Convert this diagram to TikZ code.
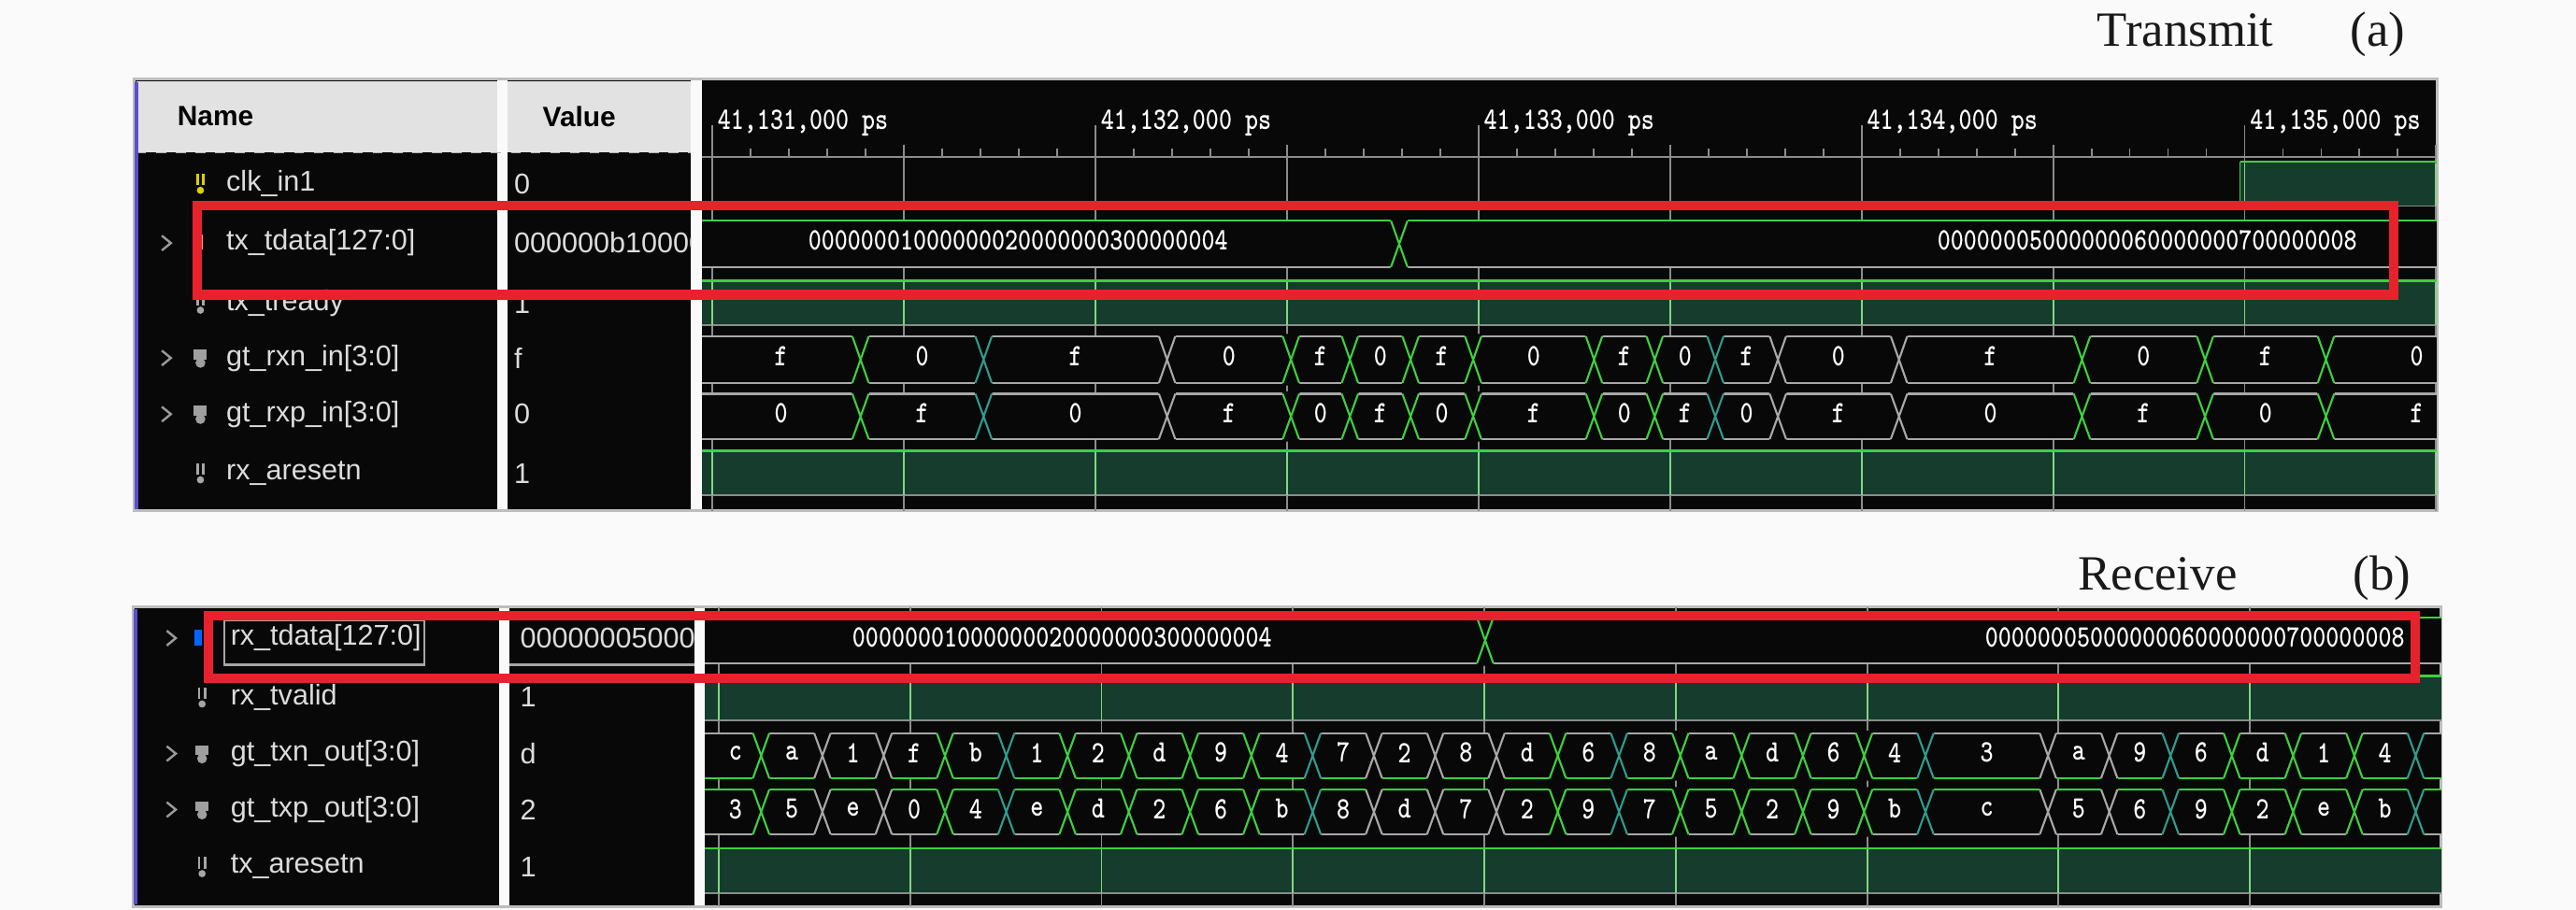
\documentclass[tikz,border=0pt]{standalone}
\usepackage{fontspec}
\setmainfont{Liberation Serif}
\newfontfamily\sigfont{Liberation Sans}
\usetikzlibrary{positioning}

\definecolor{pagebg}{HTML}{FAFAFA}
\definecolor{wavebg}{HTML}{080808}
\definecolor{hdrgray}{HTML}{E2E2E2}
\definecolor{framegray}{HTML}{BDBDBD}
\definecolor{busgray}{HTML}{A8A8A8}
\definecolor{gridgray}{HTML}{8C8C8C}
\definecolor{wavegreen}{HTML}{3ED03E}
\definecolor{xteal}{HTML}{2E9C8C}
\definecolor{wavefill}{HTML}{153C2C}
\definecolor{gridgreen}{HTML}{86D486}
\definecolor{markred}{HTML}{E8222C}
\definecolor{nametext}{HTML}{DCDCDC}
\definecolor{leftblue}{HTML}{5A4FD0}

\newcommand{\wavetext}[1]{\scalebox{0.8}[1]{#1}}
\newcommand{\busrow}[6]{\fill[wavebg] (#1,{#3-#4}) rectangle (#2,{#3+#4});
	\draw[color=#5, line width=0.6pt] (#1,{#3-#4}) -- (#2,{#3-#4});
	\draw[color=#6, line width=0.6pt] (#1,{#3+#4}) -- (#2,{#3+#4});}
\newcommand{\busflip}[4]{\fill[wavebg] ({#1-5.6},{#2-#3-1.5}) -- ({#1+5.6},{#2-#3-1.5}) -- ({#1},{#2}) -- cycle;
	\fill[wavebg] ({#1-5.6},{#2+#3+1.5}) -- ({#1+5.6},{#2+#3+1.5}) -- ({#1},{#2}) -- cycle;
	\draw[color=#4, line width=0.6pt] ({#1-5},{#2-#3}) -- ({#1+5},{#2+#3}) ({#1-5},{#2+#3}) -- ({#1+5},{#2-#3});}
\newcommand{\highrow}[4]{\fill[wavefill] (#1,{#3-#4}) rectangle (#2,{#3+#4});
	\draw[wavegreen, line width=0.7pt] (#1,{#3-#4}) -- (#2,{#3-#4});
	\draw[gridgray, line width=0.5pt] (#1,{#3+#4}) -- (#2,{#3+#4});}
\newcommand{\bitico}[3]{\draw[#3, line width=0.8pt] ({#1-1.8},{#2-6}) -- ({#1-1.8},{#2+1}) ({#1+1.8},{#2-6}) -- ({#1+1.8},{#2+1});
	\fill[#3] (#1,{#2+4}) circle (2.2);}
\newcommand{\busico}[3]{\fill[#3] ({#1-4},{#2-5}) rectangle ({#1+4},{#2+1});
	\fill[#3] (#1,{#2+3}) circle (3);}
\newcommand{\expander}[2]{\draw[gray!80, line width=0.7pt] (#1,{#2-4.5}) -- ({#1+5.5},#2) -- (#1,{#2+4.5});}

\def\flipsA{523.8/wavegreen, 598.7/xteal, 710.4/busgray, 785.8/wavegreen, 821.7/wavegreen, 858.6/wavegreen,
	896.7/wavegreen, 970.3/wavegreen, 1007.2/wavegreen, 1044.1/xteal, 1082.2/busgray, 1155.9/busgray,
	1267.3/wavegreen, 1342.2/wavegreen, 1415.8/wavegreen}
\def\flipsB{0/wavegreen, 1/busgray, 2/busgray, 3/wavegreen, 4/xteal, 5/wavegreen, 6/wavegreen, 7/wavegreen,
	8/wavegreen, 9/xteal, 10/busgray, 11/busgray, 12/busgray, 13/wavegreen, 14/xteal, 15/wavegreen,
	16/wavegreen, 17/wavegreen, 18/wavegreen, 19/xteal, 21/busgray, 22/busgray, 23/xteal, 24/wavegreen,
	25/wavegreen, 26/wavegreen, 27/xteal}

\begin{document}
\begin{tikzpicture}[x=0.017577cm, y=-0.017581cm,
	sig/.style={anchor=west, inner sep=0pt, text=nametext, font=\sigfont\fontsize{8.7}{10}\selectfont},
	hdr/.style={anchor=west, inner sep=0pt, text=black, font=\sigfont\bfseries\fontsize{8.5}{10}\selectfont},
	wv/.style={inner sep=0pt, text=white, font=\ttfamily\bfseries\fontsize{9.5}{11}\selectfont},
	caption/.style={anchor=base west, inner sep=0pt, text=black!90, font=\fontsize{15}{18}\selectfont},
	gridln/.style={draw=gridgray, line width=0.55pt},
	redbox/.style={draw=markred, line width=2.85pt}]

	\useasboundingbox (0,0) rectangle (1568,554);
	\fill[pagebg] (0,0) rectangle (1568,554);

	\node[caption] (Tx) at (1276.2,28.4) {Transmit};
	\node[caption, base right=23pt of Tx] (TxTag) {(a)};

	\fill[wavebg] (81.5,48.3) rectangle (1483.5,311);
	\fill[hdrgray] (83,49.5) rectangle (420.7,93);
	\fill[pagebg] (302.5,48.3) rectangle (309,311);
	\fill[pagebg] (420.7,48.3) rectangle (427,311);
	\draw[framegray, line width=0.8pt] (81.5,48.3) rectangle (1483.5,311);
	\draw[gray!60, dashed, line width=0.4pt] (83,93) -- (420.7,93);
	\draw[leftblue, line width=1.1pt] (83,50) -- (83,310);
	\node[hdr] (NameA) at (107.6,71) {Name};
	\node[hdr] (ValueA) at (330,71) {Value};

	\draw[gridgray, line width=0.6pt] (427,95.5) -- (1483.5,95.5);
	\foreach \i in {1,...,45}
		\draw[gridln] ({433.5+23.32*\i},90.5) -- ({433.5+23.32*\i},95.5);
	\foreach \i in {0,...,9}
		\draw[gridln] ({433.5+116.6*\i},{76+12*mod(\i,2)}) -- ({433.5+116.6*\i},311);
	\foreach \i/\k in {0/131,1/132,2/133,3/134,4/135}
		\node[wv, anchor=base west] (T\k) at ({436.5+233.2*\i},78.6) {\wavetext{41,\k,000 ps}};

	\draw[wavegreen, line width=0.7pt] (427,125.5) -- (1363.8,125.5) -- (1363.8,98.5);
	\highrow{1363.8}{1483.5}{112}{13.5}
	\highrow{427}{1483.5}{184.5}{13.5}
	\highrow{427}{1483.5}{288}{13.5}
	\begin{scope}
		\clip (1363.8,99.2) rectangle (1483.5,125.5) (427,171.7) rectangle (1483.5,198) (427,275.2) rectangle (1483.5,301.5);
		\foreach \i in {0,...,9}
			\draw[gridgreen, line width=0.55pt] ({433.5+116.6*\i},90) -- ({433.5+116.6*\i},311);
	\end{scope}

	\busrow{427}{1483.5}{148.5}{14}{wavegreen}{busgray}
	\busflip{851.7}{148.5}{14}{wavegreen}
	\node[wv] (DatA1) at (619.7,146.5) {\wavetext{00000001000000020000000300000004}};
	\node[wv] (DatA2) at (1307,146.5) {\wavetext{00000005000000060000000700000008}};

	\busrow{427}{1483.5}{219}{14.2}{busgray}{busgray}
	\busrow{427}{1483.5}{253.6}{13.8}{busgray}{busgray}
	\foreach \tx/\cl in \flipsA {
		\busflip{\tx}{219}{14.2}{\cl}
		\busflip{\tx}{253.6}{13.8}{\cl}
	}
	\foreach \x/\vl/\vr [count=\n] in {475.4/f/0, 561.3/0/f, 654.6/f/0, 748.1/0/f, 803.8/f/0, 840.2/0/f,
		877.7/f/0, 933.5/0/f, 988.8/f/0, 1025.7/0/f, 1063.2/f/0, 1119.1/0/f, 1211.6/f/0, 1304.8/0/f,
		1379/f/0, 1471/0/f} {
		\node[wv] (rxn\n) at (\x,217) {\wavetext{\vl}};
		\node[wv] (rxp\n) at (\x,251.6) {\wavetext{\vr}};
	}

	\bitico{122}{111.9}{yellow!70!olive}
	\fill[orange!70!red!60] (118.5,143) rectangle (123.5,152);
	\bitico{122}{184.9}{gray!70}
	\busico{122}{218}{gray!75}
	\busico{122}{252.2}{gray!75}
	\bitico{122}{288.2}{gray!70}
	\expander{98.5}{148}
	\expander{98.5}{218}
	\expander{98.5}{252.2}
	\node[sig] (clkA) at (137.4,111.9) {clk\_in1};
	\node[sig] (txdA) at (137.4,147.9) {tx\_tdata[127:0]};
	\node[sig] (txrA) at (137.4,184.9) {tx\_tready};
	\node[sig] (rxnA) at (137.4,218) {gt\_rxn\_in[3:0]};
	\node[sig] (rxpA) at (137.4,252.2) {gt\_rxp\_in[3:0]};
	\node[sig] (rstA) at (137.4,288.2) {rx\_aresetn};
	\begin{scope}
		\clip (309,100) rectangle (420.7,300);
		\node[sig] (vclkA) at (312.6,111.9) {0};
		\node[sig] (vtxdA) at (312.6,147.9) {000000b10000};
		\node[sig] (vtxrA) at (312.6,184.9) {1};
		\node[sig] (vrxnA) at (312.6,218) {f};
		\node[sig] (vrxpA) at (312.6,252.2) {0};
		\node[sig] (vrstA) at (312.6,288.2) {1};
	\end{scope}

	\draw[redbox] (120,125) rectangle (1457,179.5);

	\node[caption] (Rx) at (1264.7,359.3) {Receive};
	\node[caption, base right=35pt of Rx] (RxTag) {(b)};

	\fill[wavebg] (81,369.7) rectangle (1486,552);
	\fill[pagebg] (304,369.7) rectangle (310,552);
	\fill[pagebg] (423,369.7) rectangle (429,552);
	\draw[framegray, line width=0.8pt] (81,369.7) rectangle (1486,552);
	\draw[leftblue, line width=1.1pt] (82.5,371) -- (82.5,551);

	\foreach \i in {0,...,8}
		\draw[gridln] ({437.5+116.5*\i},370) -- ({437.5+116.5*\i},552);
	\highrow{429}{1486}{425}{13.5}
	\highrow{429}{1486}{530.3}{13.7}
	\begin{scope}
		\clip (429,412.2) rectangle (1486,438.5) (429,517.3) rectangle (1486,544);
		\foreach \i in {0,...,8}
			\draw[gridgreen, line width=0.55pt] ({437.5+116.5*\i},370) -- ({437.5+116.5*\i},552);
	\end{scope}

	\busrow{429}{1486}{390}{14}{wavegreen}{busgray}
	\busflip{904}{390}{14}{wavegreen}
	\node[wv] (DatB1) at (646.5,388) {\wavetext{00000001000000020000000300000004}};
	\node[wv] (DatB2) at (1336,388) {\wavetext{00000005000000060000000700000008}};

	\busrow{429}{1486}{460.2}{13.75}{busgray}{wavegreen}
	\busrow{429}{1486}{494.4}{13.7}{wavegreen}{busgray}
	\foreach \k/\cl in \flipsB {
		\busflip{463.3+37.3*\k}{460.2}{13.75}{\cl}
		\busflip{463.3+37.3*\k}{494.4}{13.7}{\cl}
	}
	\foreach \pos/\vl/\vr [count=\n] in {-0.42/c/3, 0.5/a/5, 1.5/1/e, 2.5/f/0, 3.5/b/4, 4.5/1/e, 5.5/2/d,
		6.5/d/2, 7.5/9/6, 8.5/4/b, 9.5/7/8, 10.5/2/d, 11.5/8/7, 12.5/d/2, 13.5/6/9, 14.5/8/7, 15.5/a/5,
		16.5/d/2, 17.5/6/9, 18.5/4/b, 20/3/c, 21.5/a/5, 22.5/9/6, 23.5/6/9, 24.5/d/2, 25.5/1/e, 26.5/4/b} {
		\node[wv] (txn\n) at ({463.3+37.3*\pos},458.4) {\wavetext{\vl}};
		\node[wv] (txp\n) at ({463.3+37.3*\pos},492.6) {\wavetext{\vr}};
	}

	\fill[blue!60!cyan] (118.5,383.5) rectangle (123,393);
	\fill[gray!60] (125,384) rectangle (127.5,393);
	\bitico{123}{424.7}{gray!70}
	\busico{123}{458.9}{gray!75}
	\busico{123}{493}{gray!75}
	\bitico{123}{528}{gray!70}
	\expander{101.5}{388.6}
	\expander{101.5}{458.9}
	\expander{101.5}{493}
	\draw[gray!70, line width=0.6pt] (136.3,378) rectangle (258.2,404.8);
	\draw[gray!70, line width=0.6pt] (310,404.8) -- (423,404.8);
	\node[sig] (rxdB) at (140,388.6) {rx\_tdata[127:0]};
	\node[sig] (rxvB) at (140,424.7) {rx\_tvalid};
	\node[sig] (txnB) at (140,458.9) {gt\_txn\_out[3:0]};
	\node[sig] (txpB) at (140,493) {gt\_txp\_out[3:0]};
	\node[sig] (rstB) at (140,528) {tx\_aresetn};
	\begin{scope}
		\clip (310,372) rectangle (423,550);
		\node[sig] (vrxdB) at (316.3,388.6) {000000050000};
		\node[sig] (vrxvB) at (316.3,424.7) {1};
		\node[sig] (vtxnB) at (316.3,458.9) {d};
		\node[sig] (vtxpB) at (316.3,493) {2};
		\node[sig] (vrstB) at (316.3,528) {1};
	\end{scope}

	\draw[redbox] (127,375) rectangle (1470,413);
\end{tikzpicture}
\end{document}
